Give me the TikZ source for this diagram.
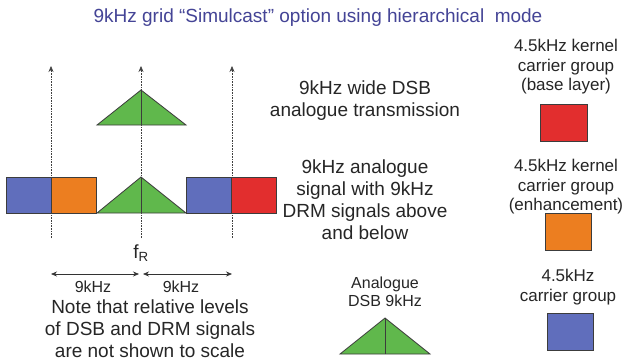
\documentclass[tikz,border=0pt]{standalone}
\usepackage{fontspec}
\setmainfont{Liberation Sans}
\usetikzlibrary{arrows.meta}
\definecolor{titleblue}{RGB}{68,68,150}
\definecolor{cblue}{RGB}{96,110,188}
\definecolor{corange}{RGB}{236,126,32}
\definecolor{cred}{RGB}{226,46,46}
\definecolor{cgreen}{RGB}{96,184,76}
\definecolor{edge}{RGB}{60,60,60}
\tikzset{
  blk/.style={draw=edge, line width=0.8pt, minimum width=45pt, minimum height=36pt, inner sep=0pt},
  legbox/.style={draw=edge, line width=0.8pt, minimum width=46pt, minimum height=37pt, inner sep=0pt},
  tri/.style={draw=edge, line width=0.8pt, fill=cgreen, line join=miter},
  guide/.style={densely dotted, line width=0.6pt, black!75, -{Stealth[length=6pt,width=5pt]}},
  dim/.style={line width=0.7pt, black!80, {Stealth[length=6pt,width=5pt]}-{Stealth[length=6pt,width=5pt]}},
  txt/.style={align=center, inner sep=0pt, font=\fontsize{19}{22}\selectfont, text=black!85},
  leg/.style={align=center, inner sep=0pt, font=\fontsize{17}{19.5}\selectfont, text=black!85},
  small/.style={inner sep=0pt, font=\fontsize{16}{18}\selectfont, text=black!85}
}
\begin{document}
\begin{tikzpicture}[x=1pt,y=-1pt]
\useasboundingbox (0,0) rectangle (629,360);
\fill[white] (0,0) rectangle (629,360);

% title
\node[inner sep=0pt, text=titleblue, font=\fontsize{19}{21}\selectfont] (title) at (318,18) {9kHz grid “Simulcast” option using hierarchical \ mode};

% guide lines
\coordinate (d1) at (51,238); \coordinate (t1) at (51,66);
\coordinate (d2) at (141,238); \coordinate (t2) at (141,66);
\coordinate (d3) at (232,238); \coordinate (t3) at (232,66);
\draw[guide] (d1) -- (t1);
\draw[guide] (d2) -- (t2);
\draw[guide] (d3) -- (t3);

% top triangle
\coordinate (ta) at (141,90);
\coordinate (tb) at (141,125);
\draw[tri] (97,125) -- (ta) -- (186,125) -- cycle;
\draw[line width=0.8pt, edge] (ta) -- (tb);

% bottom row
\node[blk, fill=cblue] (b1) at (28.5,195) {};
\node[blk, fill=corange] (b2) at (73.5,195) {};
\node[blk, fill=cblue] (b3) at (209,195) {};
\node[blk, fill=cred] (b4) at (254,195) {};
\coordinate (ba) at (141,177);
\coordinate (bb) at (141,213);
\draw[tri] (97,213) -- (ba) -- (186,213) -- cycle;
\draw[line width=0.8pt, edge] (ba) -- (bb);

% f_R
\node[inner sep=0pt, font=\fontsize{19}{22}\selectfont, text=black!85] (fr) at (141,253) {f\textsubscript{R}};

% dimension arrows
\coordinate (l1) at (51,274); \coordinate (l2) at (139,274);
\coordinate (r1) at (143,274); \coordinate (r2) at (232,274);
\draw[dim] (l1) -- (l2);
\draw[dim] (r1) -- (r2);
\node[small] (k1) at (93,287) {9kHz};
\node[small] (k2) at (181,287) {9kHz};

\node[txt] (note) at (150,328.5) {Note that relative levels\\of DSB and DRM signals\\are not shown to scale};

% middle texts
\node[txt] (m1) at (365,101) {9kHz wide DSB\\analogue transmission};
\node[txt] (m2) at (365,200) {9kHz analogue\\signal with 9kHz\\DRM signals above\\and below};

\node[small, align=center] (an) at (385,292) {Analogue\\DSB 9kHz};
\coordinate (aa) at (385,318);
\coordinate (ab) at (385,354);
\draw[tri] (340,354) -- (aa) -- (430,354) -- cycle;
\draw[line width=0.8pt, edge] (aa) -- (ab);

% legend
\node[leg] (lg1) at (566,67) {4.5kHz kernel\\carrier group\\(base layer)};
\node[legbox, fill=cred, minimum width=47pt] (lb1) at (563.5,122.5) {};
\node[leg] (lg2) at (566,187) {4.5kHz kernel\\carrier group\\(enhancement)};
\node[legbox, fill=corange] (lb2) at (568,232) {};
\node[leg] (lg3) at (568,287) {4.5kHz\\carrier group};
\node[legbox, fill=cblue] (lb3) at (570,331.5) {};
\end{tikzpicture}
\end{document}
